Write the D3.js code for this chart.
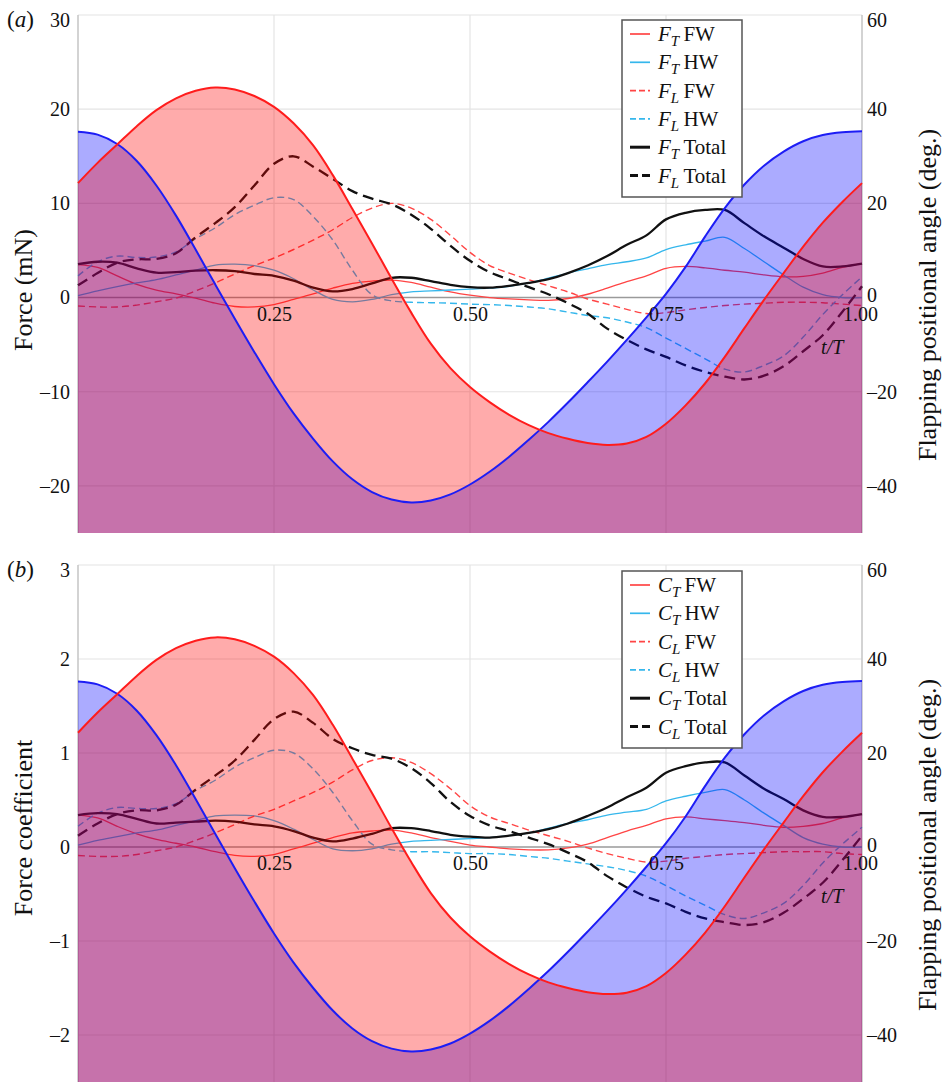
<!DOCTYPE html>
<html><head><meta charset="utf-8">
<script src="https://cdn.jsdelivr.net/npm/d3@7"></script>
<style>body{margin:0;background:#fff}svg{display:block}</style>
</head><body>
<svg id="c" width="947" height="1082"></svg>
<script>
// ---------- DATA ----------
const tGrid = [0,0.025,0.05,0.075,0.1,0.125,0.15,0.175,0.2,0.225,0.25,0.275,0.3,0.325,0.35,0.375,0.4,0.425,0.45,0.475,0.5,0.525,0.55,0.575,0.6,0.625,0.65,0.675,0.7,0.725,0.75,0.775,0.8,0.825,0.85,0.875,0.9,0.925,0.95,0.975,1];

// flapping positional angle (deg.)
const angleFW = [24.3,28.6,32.5,36.4,39.8,42.3,43.9,44.6,44.2,42.8,40.5,37.0,32.3,26.0,18.8,11.5,4.0,-3.2,-9.8,-15.0,-19.0,-22.2,-24.9,-27.1,-28.8,-30.0,-30.9,-31.3,-31.0,-29.6,-26.8,-22.9,-18.2,-12.6,-6.5,-0.5,5.2,10.8,15.9,20.3,24.3];
const angleHW = [35.2,34.6,32.6,29.0,23.8,17.4,10.2,2.8,-4.5,-11.6,-18.4,-24.6,-30.0,-34.8,-38.6,-41.3,-42.9,-43.5,-43.1,-41.8,-39.7,-37.0,-33.8,-30.2,-26.4,-22.3,-18.0,-13.6,-9.0,-4.2,0.8,6.5,13.0,19.0,24.0,28.0,31.0,33.2,34.5,35.1,35.3];

// panel (a) forces (mN)
const FT_FW = [3.5,3.2,2.3,1.4,0.8,0.4,-0.05,-0.6,-0.95,-1.0,-0.75,-0.2,0.4,1.0,1.5,1.75,1.85,1.6,1.1,0.6,0.25,0.0,-0.15,-0.25,-0.3,-0.1,0.35,1.0,1.7,2.3,3.1,3.3,3.15,2.9,2.7,2.4,2.2,2.25,2.6,3.2,3.6];
const FT_HW = [0.2,0.7,1.15,1.55,1.9,2.4,2.9,3.45,3.55,3.4,2.9,2.0,0.8,-0.2,-0.45,-0.2,0.3,0.6,0.7,0.8,0.9,1.0,1.2,1.55,2.05,2.6,3.05,3.5,3.8,4.2,5.1,5.6,6.0,6.4,5.2,3.8,2.4,1.1,0.3,0.0,0.0];
const FL_FW = [-0.9,-1.0,-1.0,-0.8,-0.45,-0.05,0.7,1.55,2.5,3.4,4.2,5.1,6.1,7.2,8.5,9.5,10.0,9.5,8.3,6.6,4.8,3.4,2.6,1.9,1.25,0.6,-0.15,-0.7,-1.25,-1.7,-1.6,-1.3,-1.05,-0.85,-0.7,-0.6,-0.5,-0.5,-0.55,-0.7,-0.85];
const FL_HW = [2.3,3.8,4.4,4.25,4.3,4.85,6.25,7.4,8.8,9.8,10.6,10.4,8.6,6.1,2.9,0.3,-0.35,-0.5,-0.55,-0.6,-0.7,-0.75,-0.85,-1.0,-1.2,-1.55,-1.9,-2.15,-2.6,-3.2,-4.3,-5.4,-6.5,-7.6,-7.9,-7.2,-6.2,-4.2,-1.8,0.3,2.2];
const FT_Total = [3.55,3.8,3.7,3.1,2.65,2.7,2.85,2.9,2.8,2.5,2.3,1.8,1.05,0.65,0.9,1.5,2.1,2.1,1.75,1.35,1.1,1.05,1.25,1.55,1.95,2.6,3.4,4.4,5.6,6.6,8.3,9.0,9.3,9.3,7.9,6.5,5.3,4.1,3.3,3.3,3.6];
const FL_Total = [1.3,2.6,3.7,4.05,4.1,4.7,6.4,7.9,9.6,11.9,14.2,15.0,13.9,12.6,11.3,10.5,9.9,8.8,7.3,5.5,3.9,2.7,1.9,1.1,0.35,-0.6,-1.7,-3.3,-4.5,-5.5,-6.3,-7.2,-7.9,-8.4,-8.7,-8.3,-7.3,-5.7,-4.0,-1.5,1.2];

// panel (b) force coefficients
const CT_FW = [0.34,0.31,0.22,0.14,0.08,0.04,0.0,-0.05,-0.09,-0.1,-0.08,-0.02,0.04,0.1,0.15,0.17,0.18,0.15,0.1,0.06,0.02,0.0,-0.02,-0.03,-0.03,-0.01,0.03,0.1,0.17,0.23,0.3,0.32,0.3,0.28,0.26,0.23,0.21,0.22,0.25,0.31,0.35];
const CT_HW = [0.02,0.07,0.11,0.15,0.18,0.23,0.28,0.33,0.34,0.33,0.28,0.19,0.08,-0.02,-0.04,-0.02,0.03,0.06,0.07,0.08,0.09,0.1,0.12,0.15,0.2,0.25,0.29,0.34,0.37,0.4,0.49,0.54,0.58,0.61,0.5,0.36,0.23,0.1,0.03,0.0,0.0];
const CL_FW = [-0.09,-0.1,-0.1,-0.08,-0.04,0.0,0.07,0.15,0.24,0.33,0.4,0.49,0.58,0.69,0.82,0.92,0.95,0.9,0.78,0.62,0.44,0.32,0.25,0.18,0.12,0.06,-0.01,-0.07,-0.12,-0.16,-0.15,-0.12,-0.1,-0.08,-0.07,-0.06,-0.05,-0.05,-0.05,-0.07,-0.08];
const CL_HW = [0.22,0.36,0.42,0.41,0.41,0.46,0.6,0.71,0.85,0.95,1.03,1.0,0.83,0.58,0.28,0.03,-0.03,-0.05,-0.05,-0.06,-0.07,-0.07,-0.08,-0.1,-0.12,-0.15,-0.18,-0.21,-0.25,-0.31,-0.41,-0.52,-0.62,-0.72,-0.76,-0.7,-0.6,-0.41,-0.17,0.03,0.21];
const CT_Total = [0.34,0.36,0.35,0.3,0.25,0.26,0.27,0.28,0.27,0.24,0.22,0.17,0.1,0.06,0.09,0.14,0.2,0.2,0.17,0.13,0.11,0.1,0.12,0.15,0.19,0.25,0.33,0.42,0.53,0.63,0.79,0.86,0.9,0.9,0.76,0.62,0.51,0.39,0.32,0.32,0.35];
const CL_Total = [0.12,0.25,0.35,0.39,0.39,0.45,0.61,0.76,0.92,1.14,1.36,1.44,1.32,1.15,1.05,0.98,0.94,0.84,0.68,0.48,0.33,0.23,0.17,0.1,0.03,-0.06,-0.16,-0.31,-0.43,-0.53,-0.6,-0.69,-0.76,-0.8,-0.83,-0.8,-0.7,-0.55,-0.38,-0.14,0.12];

const xTicks = [0.25,0.5,0.75,1.0];
const rightTicks = [-40,-20,0,20,40,60];
const leftTicksA = [-20,-10,0,10,20,30];
const leftTicksB = [-2,-1,0,1,2,3];
const legendRows = ["FW","HW","FW","HW","Total","Total"];
const legendSubs = ["T","T","L","L","T","L"];

// ---------- STYLE ----------
const SERIF = '"Liberation Serif"';
const RED = "#ff4545", CYAN = "#35b7ec";
const styles = [
  {c:RED, w:1.3, dash:null},
  {c:CYAN, w:1.3, dash:null},
  {c:RED, w:1.4, dash:"7,4"},
  {c:CYAN, w:1.4, dash:"7,4"},
  {c:"#111", w:2.3, dash:null},
  {c:"#111", w:2.3, dash:"11,6"}
];

const svg = d3.select("#c");
const X0 = 78, X1 = 862;

function txt(sel, size){
  return sel.style("font-family",SERIF).style("font-size",size+"px").attr("fill","#111");
}

function panel(cfg){
  const x = d3.scaleLinear().domain([0,1]).range([X0,X1]);
  const yL = d3.scaleLinear().domain(cfg.leftDomain).range([cfg.bottom,cfg.top]);
  const yR = d3.scaleLinear().domain([-50,60]).range([cfg.bottom,cfg.top]);
  const g = svg.append("g");

  // grid
  g.selectAll("line.h").data(cfg.leftTicks.filter(d=>d!==0)).join("line")
    .attr("x1",X0).attr("x2",X1).attr("y1",d=>yL(d)).attr("y2",d=>yL(d))
    .attr("stroke","#e4e4e4").attr("stroke-width",1.2);
  g.selectAll("line.v").data([0.25,0.5,0.75]).join("line")
    .attr("x1",d=>x(d)).attr("x2",d=>x(d)).attr("y1",cfg.top).attr("y2",cfg.bottom)
    .attr("stroke","#e4e4e4").attr("stroke-width",1.2);
  g.append("line").attr("x1",X0).attr("x2",X0).attr("y1",cfg.top).attr("y2",cfg.bottom)
    .attr("stroke","#c4c4c4").attr("stroke-width",1.5);
  g.append("line").attr("x1",X1).attr("x2",X1).attr("y1",cfg.top).attr("y2",cfg.bottom)
    .attr("stroke","#c4c4c4").attr("stroke-width",1.5);
  g.append("line").attr("x1",X0).attr("x2",X1).attr("y1",yL(0)).attr("y2",yL(0))
    .attr("stroke","#9a9a9a").attr("stroke-width",1.6);

  // force lines
  const line = d3.line().x((d,i)=>x(tGrid[i])).y(d=>yL(d)).curve(d3.curveCatmullRom.alpha(0.5));
  cfg.series.forEach((s,k)=>{
    g.append("path").attr("d",line(s)).attr("fill","none")
      .attr("stroke",styles[k].c).attr("stroke-width",styles[k].w)
      .attr("stroke-dasharray",styles[k].dash).attr("stroke-linejoin","round");
  });

  // angle fills
  const area = d3.area().x((d,i)=>x(tGrid[i])).y0(yR(-50)).y1(d=>yR(d)).curve(d3.curveCatmullRom.alpha(0.5));
  const aline = d3.line().x((d,i)=>x(tGrid[i])).y(d=>yR(d)).curve(d3.curveCatmullRom.alpha(0.5));
  g.append("path").attr("d",area(angleHW)).attr("fill","rgba(0,0,255,0.33)");
  g.append("path").attr("d",area(angleFW)).attr("fill","rgba(255,0,0,0.33)");
  g.append("path").attr("d",aline(angleHW)).attr("fill","none").attr("stroke","#1d1df5").attr("stroke-width",2);
  g.append("path").attr("d",aline(angleFW)).attr("fill","none").attr("stroke","#ff1c1c").attr("stroke-width",2);

  // axes
  const fmt = d => d<0 ? "\u2013"+Math.abs(d) : String(d);
  const la = g.append("g").attr("transform",`translate(${X0},0)`)
    .call(d3.axisLeft(yL).tickValues(cfg.leftTicks).tickFormat(fmt).tickSize(0).tickPadding(8));
  const ra = g.append("g").attr("transform",`translate(${X1},0)`)
    .call(d3.axisRight(yR).tickValues(rightTicks).tickFormat(fmt).tickSize(0).tickPadding(5));
  const xa = g.append("g").attr("transform",`translate(0,${yL(0)})`)
    .call(d3.axisBottom(x).tickValues(xTicks).tickFormat(d3.format(".2f")).tickSize(0).tickPadding(9));
  [la,ra,xa].forEach(a=>{
    a.select(".domain").remove();
    txt(a.selectAll("text"), 20);
  });
  la.selectAll(".tick").filter(d=>d===cfg.leftTicks[cfg.leftTicks.length-1]).select("text").attr("dy","0.55em");
  ra.selectAll(".tick").filter(d=>d===60).select("text").attr("dy","0.55em");
  ra.selectAll(".tick").filter(d=>d===0).select("text").attr("dy","0.22em");
  xa.selectAll(".tick").filter(d=>d===1).select("text").attr("dx","-2");

  txt(g.append("text").attr("x",x(0.962)).attr("y",yL(0)+56).attr("text-anchor","middle"),20)
    .style("font-style","italic").text("t/T");

  // titles
  txt(g.append("text").attr("transform",`translate(32,${cfg.leftTitleY}) rotate(-90)`).attr("text-anchor","middle"),26)
    .text(cfg.leftTitle);
  txt(g.append("text").attr("transform",`translate(936,${cfg.rightTitleY}) rotate(-90)`).attr("text-anchor","middle"),26)
    .text("Flapping positional angle (deg.)");
  const pl = txt(g.append("text").attr("x",7).attr("y",cfg.top+12),23);
  pl.append("tspan").text("(");
  pl.append("tspan").style("font-style","italic").text(cfg.letter);
  pl.append("tspan").text(")");

  // legend
  const L = g.append("g");
  L.append("rect").attr("x",622).attr("y",cfg.legTop).attr("width",120).attr("height",177)
    .attr("fill","#fff").attr("stroke","#555").attr("stroke-width",1.5);
  legendRows.forEach((r,k)=>{
    const ry = cfg.legTop + 14 + k*28.3;
    L.append("line").attr("x1",630).attr("x2",650).attr("y1",ry).attr("y2",ry)
      .attr("stroke",styles[k].c).attr("stroke-width",styles[k].w+ (k>3?0.7:0.4))
      .attr("stroke-dasharray",styles[k].dash ? (k>3?"8,4":"6,3") : null);
    const t = txt(L.append("text").attr("x",658).attr("y",ry+7),21);
    t.append("tspan").style("font-style","italic").text(cfg.sym);
    t.append("tspan").style("font-style","italic").style("font-size","15px").attr("dy",5).text(legendSubs[k]);
    t.append("tspan").attr("dy",-5).text("\u2009"+r);
  });
}

panel({top:15,bottom:533,leftDomain:[-25,30],leftTicks:leftTicksA,letter:"a",sym:"F",
  leftTitle:"Force (mN)",leftTitleY:290,rightTitleY:295,legTop:20,
  series:[FT_FW,FT_HW,FL_FW,FL_HW,FT_Total,FL_Total]});
panel({top:565,bottom:1082,leftDomain:[-2.5,3],leftTicks:leftTicksB,letter:"b",sym:"C",
  leftTitle:"Force coefficient",leftTitleY:828,rightTitleY:845,legTop:571,
  series:[CT_FW,CT_HW,CL_FW,CL_HW,CT_Total,CL_Total]});
</script>
</body></html>
